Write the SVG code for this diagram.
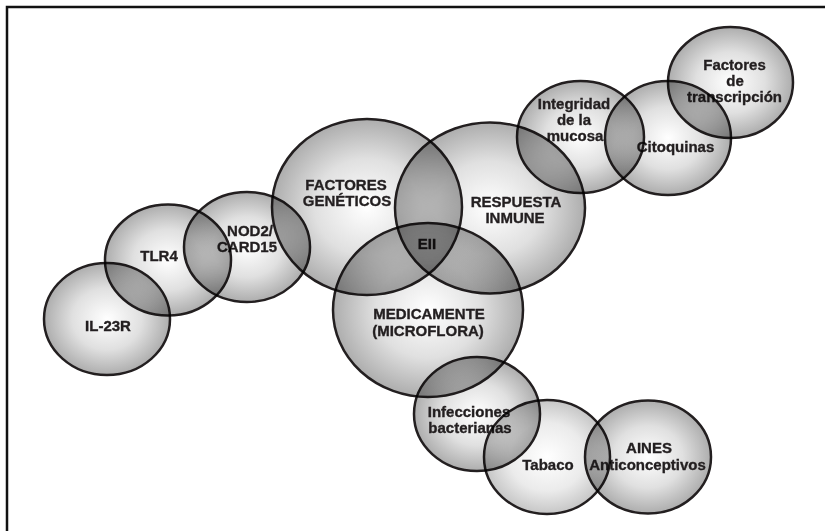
<svg xmlns="http://www.w3.org/2000/svg" width="825" height="531" viewBox="0 0 825 531">
<defs>
<radialGradient id="g">
<stop offset="0" stop-color="#ffffff"/>
<stop offset="0.55" stop-color="#e0e0e0"/>
<stop offset="1" stop-color="#adadad"/>
</radialGradient>
<radialGradient id="gl">
<stop offset="0" stop-color="#ffffff"/>
<stop offset="0.6" stop-color="#ebebeb"/>
<stop offset="1" stop-color="#c6c6c6"/>
</radialGradient>
<style>
.n{mix-blend-mode:multiply}
.n ellipse{fill:url(#g);stroke:#231f20;stroke-width:2.5}
.n.l ellipse{fill:url(#gl)}
.n text{font-family:"Liberation Sans",Arial,sans-serif;font-weight:bold;font-size:15px;fill:#231f20;stroke:#231f20;stroke-width:0.35;text-anchor:middle}
.frame{fill:none;stroke:#111;stroke-width:2.5}
</style>
</defs>
<rect width="825" height="531" fill="#ffffff"/>
<path class="frame" d="M7,531 V7 H825"/>
<g id="connectors"/>
<g id="il23r" class="n"><ellipse cx="107" cy="319" rx="63" ry="56"/><text x="108" y="331">IL-23R</text></g>
<g id="tlr4" class="n"><ellipse cx="168" cy="260" rx="63" ry="55.5"/><text x="159" y="261">TLR4</text></g>
<g id="nod2" class="n"><ellipse cx="247" cy="247" rx="63" ry="55"/><text x="250" y="236">NOD2/</text><text x="247" y="252">CARD15</text></g>
<g id="factores-geneticos" class="n"><ellipse cx="367" cy="207" rx="95" ry="88"/><text x="346" y="190">FACTORES</text><text x="347" y="206">GENÉTICOS</text></g>
<g id="respuesta-inmune" class="n"><ellipse cx="490" cy="208" rx="95" ry="85.5"/><text x="516" y="207">RESPUESTA</text><text x="515" y="223">INMUNE</text></g>
<g id="medicamento" class="n"><ellipse cx="428" cy="310" rx="95" ry="87"/><text x="429" y="319">MEDICAMENTE</text><text x="428" y="336">(MICROFLORA)</text></g>
<g id="eii" class="n"><text x="427" y="249">EII</text></g>
<g id="integridad" class="n"><ellipse cx="580.5" cy="137" rx="63.5" ry="56"/><text x="574" y="109">Integridad</text><text x="574" y="125">de la</text><text x="575" y="141">mucosa</text></g>
<g id="citoquinas" class="n"><ellipse cx="668" cy="138" rx="63" ry="57"/><text x="675.5" y="152">Citoquinas</text></g>
<g id="factores-transcripcion" class="n"><ellipse cx="730.5" cy="82.5" rx="62.5" ry="55.5"/><text x="734.5" y="70">Factores</text><text x="735" y="86">de</text><text x="734.5" y="102">transcripción</text></g>
<g id="infecciones" class="n"><ellipse cx="477" cy="414" rx="63" ry="57"/><text x="469" y="417">Infecciones</text><text x="470" y="433">bacterianas</text></g>
<g id="tabaco" class="n l"><ellipse cx="547" cy="457" rx="63" ry="57"/><text x="548" y="470">Tabaco</text></g>
<g id="aines" class="n"><ellipse cx="648" cy="457" rx="63" ry="56.5"/><text x="649" y="453">AINES</text><text x="647.5" y="470">Anticonceptivos</text></g>
</svg>
